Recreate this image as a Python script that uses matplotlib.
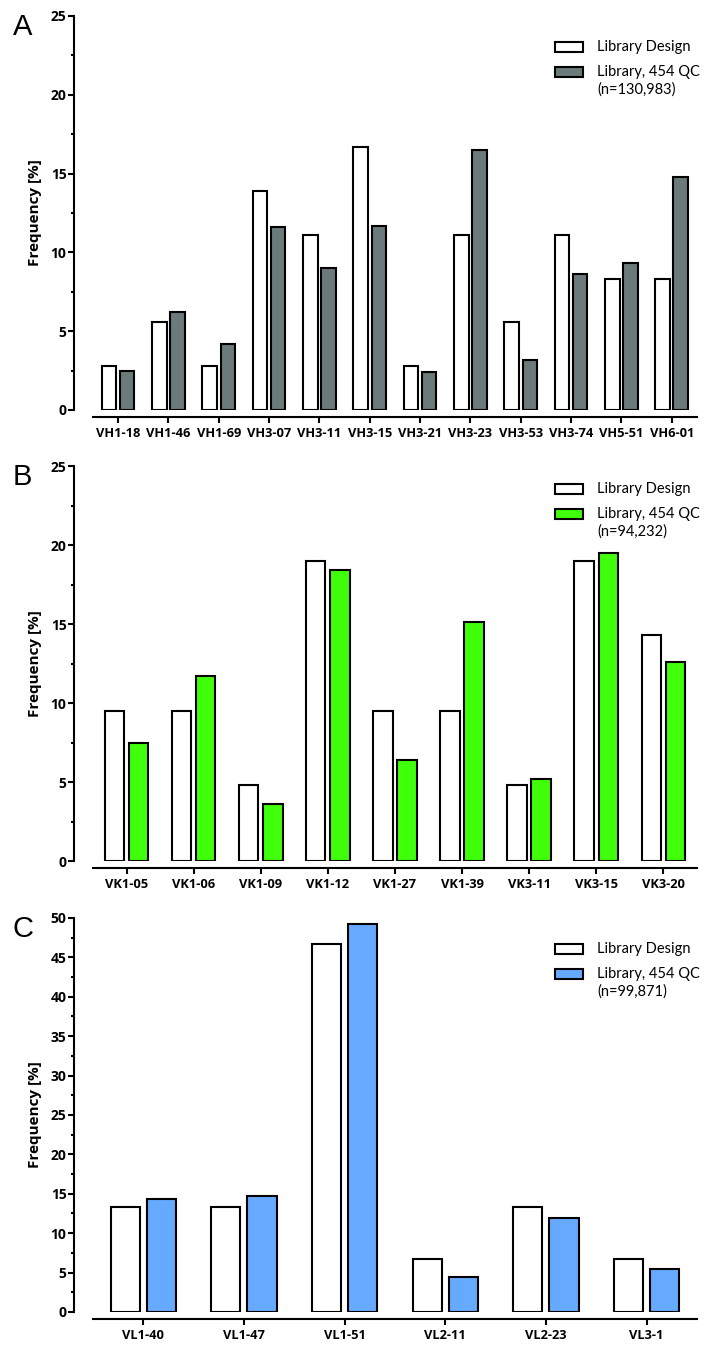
import matplotlib
matplotlib.use("Agg")
import matplotlib.pyplot as plt
from matplotlib.patches import Rectangle
import numpy as np

vh_genes = ["VH1-18", "VH1-46", "VH1-69", "VH3-07", "VH3-11", "VH3-15",
            "VH3-21", "VH3-23", "VH3-53", "VH3-74", "VH5-51", "VH6-01"]
vh_design = [2.8, 5.6, 2.8, 13.9, 11.1, 16.7, 2.8, 11.1, 5.6, 11.1, 8.3, 8.3]
vh_qc = [2.5, 6.2, 4.2, 11.6, 9.0, 11.7, 2.4, 16.5, 3.2, 8.6, 9.3, 14.8]

vk_genes = ["VK1-05", "VK1-06", "VK1-09", "VK1-12", "VK1-27", "VK1-39",
            "VK3-11", "VK3-15", "VK3-20"]
vk_design = [9.5, 9.5, 4.8, 19.0, 9.5, 9.5, 4.8, 19.0, 14.3]
vk_qc = [7.5, 11.7, 3.6, 18.4, 6.4, 15.1, 5.2, 19.5, 12.6]

vl_genes = ["VL1-40", "VL1-47", "VL1-51", "VL2-11", "VL2-23", "VL3-1"]
vl_design = [13.3, 13.3, 46.7, 6.7, 13.3, 6.7]
vl_qc = [14.3, 14.7, 49.2, 4.5, 11.9, 5.4]

panels = [
    ("A", vh_genes, vh_design, vh_qc, "#6b7a7a", "(n=130,983)", 25, 0.6963, 0.2919, 31),
    ("B", vk_genes, vk_design, vk_qc, "#40ff0a", "(n=94,232)", 25, 0.3622, 0.2926, 23),
    ("C", vl_genes, vl_design, vl_qc, "#66aaff", "(n=99,871)", 50, 0.02815, 0.2919, 31),
]

plt.rcParams["font.family"] = ["Open Sans", "DejaVu Sans"]
plt.rcParams["font.weight"] = "bold"
plt.rcParams["axes.labelweight"] = "bold"
plt.rcParams["axes.labelsize"] = 11
plt.rcParams["xtick.labelsize"] = 9.3
plt.rcParams["ytick.labelsize"] = 10

W, H = 713, 1350
fig = plt.figure(figsize=(W / 100, H / 100), dpi=100)
leg_font = ["Lato", "DejaVu Sans"]

for letter, genes, design, qc, color, ntext, ymax, bottom, height, leg_top in panels:
    ax = fig.add_axes([0.1304, bottom, 0.847, height])
    x = np.arange(len(genes))
    ax.bar(x - 0.18, design, width=0.29, color="white", edgecolor="black", linewidth=1.5)
    ax.bar(x + 0.18, qc, width=0.29, color=color, edgecolor="black", linewidth=1.5)
    ax.set_xlim(-0.5, len(genes) - 0.5)
    ax.set_ylim(0, ymax)
    ax.set_yticks(np.arange(0, ymax + 1, 5))
    ax.set_yticks(np.arange(0, ymax + 0.1, 2.5), minor=True)
    ax.set_xticks(x)
    ax.set_xticklabels(genes)
    ax.spines["top"].set_visible(False)
    ax.spines["right"].set_visible(False)
    ax.spines["left"].set_position(("outward", 14))
    ax.spines["bottom"].set_position(("outward", 5))
    ax.spines["left"].set_linewidth(1.5)
    ax.spines["bottom"].set_linewidth(1.5)
    ax.tick_params(axis="y", which="major", width=1.5, length=4, pad=1)
    ax.tick_params(axis="y", which="minor", width=1.5, length=2.5)
    ax.tick_params(axis="x", width=1.5, length=4, pad=3)
    ax.set_ylabel("Frequency [%]", labelpad=6)

    # panel letter
    top_px = (1 - bottom - height) * H
    fig.text(13 / W, 1 - (top_px - 3) / H, letter, fontfamily="Liberation Sans",
             fontweight="normal", fontsize=21, va="top", ha="left")

    # legend drawn by hand
    hpx = height * H
    def ay(px):
        return 1 - px / hpx
    px_w = 0.847 * W
    x0 = (555 - 93) / px_w
    pw = 28 / px_w
    ph = 10 / hpx
    tx = (597 - 93) / px_w
    rows = [(leg_top, "white", "Library Design"), (leg_top + 25, color, "Library, 454 QC")]
    for cy, fc, txt in rows:
        ax.add_patch(Rectangle((x0, ay(cy) - ph / 2), pw, ph, transform=ax.transAxes,
                               facecolor=fc, edgecolor="black", linewidth=1.5, clip_on=False))
        ax.text(tx, ay(cy), txt, transform=ax.transAxes, fontfamily=leg_font,
                fontweight="normal", fontsize=10.5, va="center", ha="left")
    ax.text(tx, ay(leg_top + 43), ntext, transform=ax.transAxes, fontfamily=leg_font,
            fontweight="normal", fontsize=10.5, va="center", ha="left")

fig.savefig("out.png", dpi=100)
